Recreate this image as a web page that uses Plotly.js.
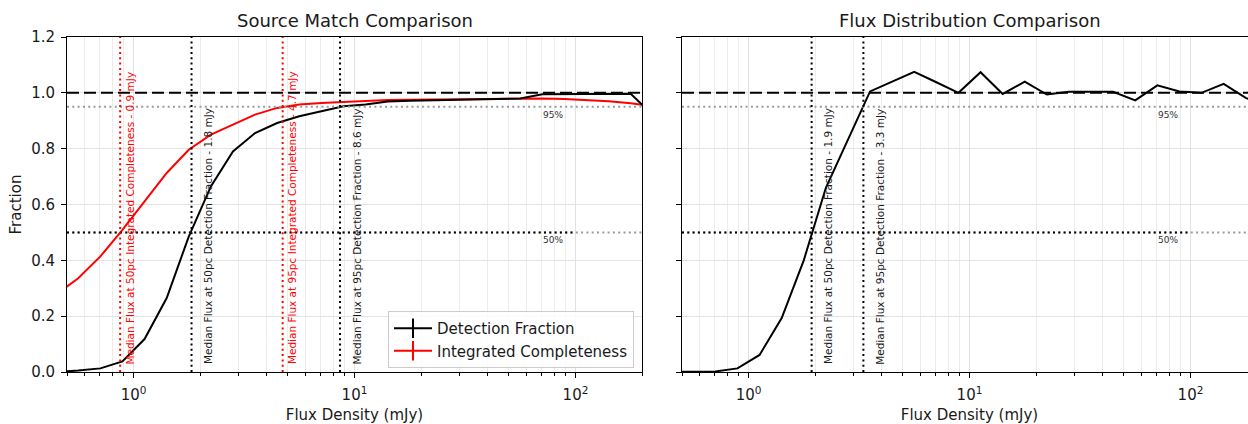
<!DOCTYPE html>
<html><head><meta charset="utf-8">
<script src="https://cdn.plot.ly/plotly-3.0.1.min.js"></script>
<style>html,body{margin:0;padding:0;overflow:hidden;background:#fff;} #chart{width:1275px;height:424px;}</style>
</head><body><div id="chart"></div>
<script>
// ---- data ----
const fluxBins = [0.447, 0.562, 0.708, 0.891, 1.122, 1.413, 1.778, 2.239, 2.818, 3.548, 4.467, 5.623, 7.079, 8.913, 11.22, 14.13, 17.78, 22.39, 28.18, 35.48, 44.67, 56.23, 70.79, 89.13, 112.2, 141.3, 177.8, 223.9];
const detectionFraction = [0.0, 0.005, 0.013, 0.038, 0.118, 0.265, 0.485, 0.665, 0.79, 0.856, 0.892, 0.916, 0.934, 0.952, 0.958, 0.969, 0.972, 0.974, 0.976, 0.976, 0.978, 0.98, 0.995, 0.996, 0.996, 0.996, 0.997, 0.92];
const integratedCompleteness = [0.278, 0.336, 0.414, 0.509, 0.611, 0.713, 0.796, 0.850, 0.886, 0.922, 0.946, 0.958, 0.964, 0.968, 0.972, 0.974, 0.975, 0.976, 0.977, 0.978, 0.979, 0.979, 0.980, 0.978, 0.975, 0.970, 0.963, 0.952];
const fluxDistributionRatio = [0.0, 0.0, 0.002, 0.013, 0.061, 0.193, 0.40, 0.66, 0.832, 1.005, 1.04, 1.075, 1.038, 1.0, 1.074, 0.996, 1.04, 0.994, 1.004, 1.003, 1.004, 0.973, 1.027, 1.005, 1.0, 1.032, 0.982, 0.95];

const majorTickVals = [1, 10, 100];
const majorTickText = ['10<sup>0</sup>', '10<sup>1</sup>', '10<sup>2</sup>'];
const minorTickVals = [0.5, 0.6, 0.7, 0.8, 0.9, 2, 3, 4, 5, 6, 7, 8, 9, 20, 30, 40, 50, 60, 70, 80, 90, 200];
const yTickVals = [0, 0.2, 0.4, 0.6, 0.8, 1.0, 1.2];
const xRange = [0.5, 200];
const yRange = [0, 1.2];

const leftMedianFlux = [0.87, 1.83, 4.73, 8.6];
const leftMedianKind = ['50pc Integrated Completeness', '50pc Detection Fraction', '95pc Integrated Completeness', '95pc Detection Fraction'];
const rightMedianFlux = [1.93, 3.31];
const rightMedianKind = ['50pc Detection Fraction', '95pc Detection Fraction'];

const unityLevel = 1.0;
const levelValues = [0.95, 0.5];
const levelLabels = ['95%', '50%'];
const levelLabelFlux = 70;
const halfLevelSolidTo = 100;

const seriesNames = ['Detection Fraction', 'Integrated Completeness'];
const titles = ['Source Match Comparison', 'Flux Distribution Comparison'];
const xTitle = 'Flux Density (mJy)';
const yTitle = 'Fraction';

// ---- styles ----
const FONT = 'DejaVu Sans, sans-serif';
const TXT = '#1a1a1a';
const RED = '#ff0000';
const DOT = '2px,3.3px';

const traces = [
  {x: fluxBins, y: integratedCompleteness, xaxis: 'x', yaxis: 'y', mode: 'lines', line: {color: RED, width: 2}, showlegend: false, hoverinfo: 'skip'},
  {x: fluxBins, y: detectionFraction, xaxis: 'x', yaxis: 'y', mode: 'lines', line: {color: '#000', width: 2}, showlegend: false, hoverinfo: 'skip'},
  {x: fluxBins, y: fluxDistributionRatio, xaxis: 'x2', yaxis: 'y2', mode: 'lines', line: {color: '#000', width: 2}, showlegend: false, hoverinfo: 'skip'},
  {x: [null], y: [null], xaxis: 'x', yaxis: 'y', name: seriesNames[0], mode: 'lines+markers', line: {color: '#000', width: 2}, marker: {symbol: 'line-ns', size: 14, line: {width: 2, color: '#000'}}},
  {x: [null], y: [null], xaxis: 'x', yaxis: 'y', name: seriesNames[1], mode: 'lines+markers', line: {color: RED, width: 2}, marker: {symbol: 'line-ns', size: 14, line: {width: 2, color: RED}}}
];

const shapes = [];
const annotations = [];

function refLines(xr, yr) {
  shapes.push({type: 'line', xref: xr + ' domain', x0: 0, x1: 1, yref: yr, y0: unityLevel, y1: unityLevel, line: {color: '#000', width: 2, dash: '12px,5px'}});
  levelValues.forEach((lv, i) => {
    shapes.push({type: 'line', xref: xr + ' domain', x0: 0, x1: 1, yref: yr, y0: lv, y1: lv, line: {color: '#9a9a9a', width: 2, dash: DOT}});
    annotations.push({xref: xr, yref: yr, x: Math.log10(levelLabelFlux), y: lv, xanchor: 'left', yanchor: 'top', yshift: -1, showarrow: false, text: levelLabels[i], font: {family: FONT, size: 9, color: '#333'}});
  });
  shapes.push({type: 'line', xref: xr, x0: xRange[0], x1: halfLevelSolidTo, yref: yr, y0: levelValues[1], y1: levelValues[1], line: {color: '#000', width: 2, dash: DOT}});
}
function medianLines(xr, yr, vals, kinds) {
  vals.forEach((v, i) => {
    const isInt = kinds[i].indexOf('Integrated') >= 0;
    const col = isInt ? RED : '#000';
    shapes.push({type: 'line', xref: xr, x0: v, x1: v, yref: yr + ' domain', y0: 0, y1: 1, line: {color: col, width: 2, dash: DOT}});
    annotations.push({xref: xr, yref: yr, x: Math.log10(v), y: 0.02, xanchor: 'left', yanchor: 'bottom', xshift: isInt ? 1.5 : 9, textangle: -90, showarrow: false,
      text: 'Median Flux at ' + kinds[i] + ' - ' + v.toFixed(1) + ' mJy', font: {family: FONT, size: 10.5, color: isInt ? RED : TXT}});
  });
}
refLines('x', 'y');
refLines('x2', 'y2');
medianLines('x', 'y', leftMedianFlux, leftMedianKind);
medianLines('x2', 'y2', rightMedianFlux, rightMedianKind);

['x', 'x2'].forEach((xr, i) => {
  annotations.push({xref: xr + ' domain', yref: 'paper', x: 0.5, y: 1, xanchor: 'center', yanchor: 'bottom', yshift: 4, showarrow: false, text: titles[i], font: {family: FONT, size: 18, color: TXT}});
});

function xaxis(domain, anchor) {
  return {type: 'log', domain: domain, anchor: anchor, range: xRange.map(Math.log10), tickmode: 'array', tickvals: majorTickVals, ticktext: majorTickText,
    ticks: 'outside', ticklen: 5, tickwidth: 1, tickcolor: '#000', showline: true, mirror: true, linecolor: '#000', linewidth: 1, ticklabelstandoff: 4,
    showgrid: true, gridcolor: '#e2e2e2', gridwidth: 1, zeroline: false, tickfont: {family: FONT, size: 15, color: TXT},
    minor: {tickmode: 'array', tickvals: minorTickVals, ticks: 'outside', ticklen: 3, tickwidth: 1, tickcolor: '#000', showgrid: true, gridcolor: '#ececec', gridwidth: 1},
    title: {text: xTitle, font: {family: FONT, size: 15, color: TXT}, standoff: 7}};
}
function yaxis(anchor, labels) {
  return {anchor: anchor, range: yRange, tickmode: 'array', tickvals: yTickVals, tickformat: '.1f', showticklabels: labels,
    ticks: 'outside', ticklen: 5, tickwidth: 1, tickcolor: '#000', showline: true, mirror: true, linecolor: '#000', linewidth: 1, ticklabelstandoff: 3,
    showgrid: true, gridcolor: '#e2e2e2', zeroline: false, tickfont: {family: FONT, size: 15, color: TXT},
    title: labels ? {text: yTitle, font: {family: FONT, size: 15, color: TXT}, standoff: 5} : {text: ''}};
}

const W = 1275, L = 67, R = 18;
const plotW = W - L - R;
const layout = {
  width: W, height: 424,
  margin: {l: L, r: R, t: 37, b: 52, pad: 0},
  paper_bgcolor: '#fff', plot_bgcolor: '#fff',
  font: {family: FONT, color: TXT},
  xaxis: xaxis([0, 575 / plotW], 'y'),
  xaxis2: xaxis([615 / plotW, 1], 'y2'),
  yaxis: yaxis('x', true),
  yaxis2: yaxis('x2', false),
  showlegend: true,
  legend: {x: (634 - L) / plotW, xanchor: 'right', y: 0.012, yanchor: 'bottom', bgcolor: 'rgba(255,255,255,0.85)', bordercolor: '#cccccc', borderwidth: 1,
    font: {family: FONT, size: 15, color: TXT}, tracegroupgap: 0, itemwidth: 38},
  shapes: shapes,
  annotations: annotations
};
Plotly.newPlot('chart', traces, layout, {displayModeBar: false, staticPlot: true});
</script></body></html>
